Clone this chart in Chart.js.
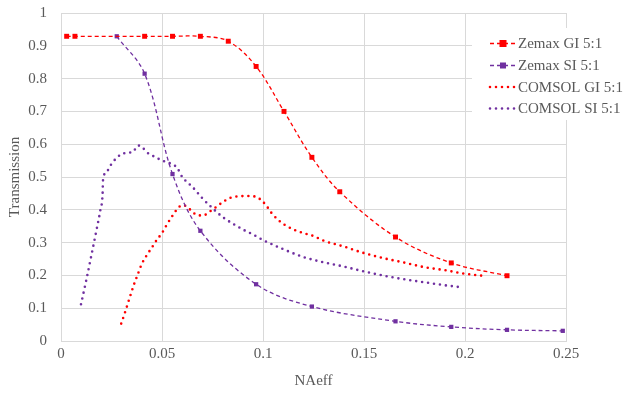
<!DOCTYPE html>
<html>
<head>
<meta charset="utf-8">
<script src="https://cdn.jsdelivr.net/npm/chart.js@4.4.1/dist/chart.umd.min.js"></script>
<style>
  html, body { margin: 0; padding: 0; background: #fff; }
  #wrap { width: 624px; height: 393px; }
</style>
</head>
<body>
<div id="wrap"><canvas id="chart" width="624" height="393"></canvas></div>
<script>
// Zemax (markers)
const zemaxGiX = [0.0028, 0.0069, 0.0414, 0.0552, 0.069, 0.0828, 0.0966, 0.1104, 0.1242, 0.138, 0.1656, 0.1932, 0.2208];
const zemaxGiY = [0.929, 0.929, 0.929, 0.929, 0.929, 0.914, 0.837, 0.700, 0.560, 0.455, 0.317, 0.238, 0.199];
const zemaxSiX = [0.0276, 0.0414, 0.0552, 0.069, 0.0966, 0.1242, 0.1656, 0.1932, 0.2208, 0.2484];
const zemaxSiY = [0.929, 0.815, 0.509, 0.336, 0.173, 0.105, 0.060, 0.043, 0.034, 0.031];

// COMSOL (dotted curves)
const comsolGiX = [0.0298, 0.032, 0.034, 0.036, 0.038, 0.040, 0.0425, 0.045, 0.0475, 0.050, 0.0525, 0.055, 0.0575, 0.060, 0.0625, 0.065, 0.068, 0.0705, 0.0735, 0.0765, 0.080, 0.084, 0.088, 0.092, 0.0965, 0.099, 0.1015, 0.104, 0.107, 0.110, 0.115, 0.120, 0.125, 0.130, 0.140, 0.150, 0.160, 0.170, 0.180, 0.190, 0.200, 0.2085];
const comsolGiY = [0.053, 0.093, 0.132, 0.17, 0.203, 0.235, 0.262, 0.285, 0.309, 0.329, 0.356, 0.38, 0.402, 0.414, 0.409, 0.394, 0.383, 0.383, 0.394, 0.407, 0.423, 0.437, 0.441, 0.442, 0.44, 0.43, 0.414, 0.392, 0.372, 0.357, 0.34, 0.329, 0.32, 0.306, 0.288, 0.268, 0.252, 0.239, 0.225, 0.216, 0.205, 0.199];
const comsolSiX = [0.0099, 0.0125, 0.015, 0.0175, 0.0195, 0.0206, 0.0208, 0.0225, 0.025, 0.0275, 0.030, 0.0335, 0.036, 0.038, 0.040, 0.0425, 0.045, 0.0475, 0.050, 0.0525, 0.055, 0.0575, 0.060, 0.0625, 0.065, 0.070, 0.075, 0.080, 0.085, 0.090, 0.095, 0.100, 0.110, 0.120, 0.130, 0.140, 0.150, 0.160, 0.170, 0.180, 0.190, 0.1966];
const comsolSiY = [0.112, 0.185, 0.26, 0.336, 0.40, 0.45, 0.49, 0.515, 0.54, 0.558, 0.57, 0.574, 0.579, 0.596, 0.592, 0.575, 0.566, 0.558, 0.550, 0.545, 0.539, 0.528, 0.50, 0.484, 0.47, 0.435, 0.405, 0.378, 0.358, 0.34, 0.325, 0.308, 0.28, 0.256, 0.24, 0.227, 0.212, 0.199, 0.188, 0.179, 0.170, 0.165];

const seriesLabels = ['Zemax GI 5:1', 'Zemax SI 5:1', 'COMSOL GI 5:1', 'COMSOL SI 5:1'];

const RED = '#ff0000';
const PURPLE = '#7030a0';
const TEXT = '#595959';
const GRID = '#d9d9d9';
const FONT = '"Liberation Serif", "Times New Roman", serif';

const pts = (xs, ys) => xs.map((x, i) => ({ x: x, y: ys[i] }));

// legend drawn by hand so line samples keep their dash + marker
const legendPlugin = {
    id: 'sideLegend',
    afterDraw(chart) {
        const ctx = chart.ctx;
        ctx.save();
        ctx.fillStyle = '#fff';
        ctx.fillRect(472, 28, 152, 92);
        const rows = [43.5, 65.5, 87, 108.5];
        chart.data.datasets.forEach((ds, i) => {
            const y = rows[i];
            ctx.strokeStyle = ds.borderColor;
            ctx.lineWidth = ds.borderWidth;
            ctx.lineCap = ds.borderCapStyle || 'butt';
            ctx.setLineDash(ds.borderDash || []);
            ctx.beginPath();
            ctx.moveTo(490, y);
            ctx.lineTo(516, y);
            ctx.stroke();
            ctx.setLineDash([]);
            if (ds.pointRadius > 0) {
                const r = ds.pointRadius;
                ctx.fillStyle = ds.pointBackgroundColor;
                ctx.fillRect(503 - r, y - r, r * 2, r * 2);
            }
            ctx.fillStyle = TEXT;
            ctx.font = '15px ' + FONT;
            ctx.textBaseline = 'middle';
            ctx.textAlign = 'left';
            ctx.fillText(ds.label, 518, y + 1);
        });
        ctx.restore();
    }
};

const ctx = document.getElementById('chart').getContext('2d');
new Chart(ctx, {
    type: 'scatter',
    data: {
        datasets: [
            {
                label: seriesLabels[0],
                data: pts(zemaxGiX, zemaxGiY),
                showLine: true,
                borderColor: RED,
                borderWidth: 1.3,
                borderDash: [4, 3],
                tension: 0.35,
                pointStyle: 'rect',
                pointRadius: 3.5,
                pointBackgroundColor: RED,
                pointBorderWidth: 0
            },
            {
                label: seriesLabels[1],
                data: pts(zemaxSiX, zemaxSiY),
                showLine: true,
                borderColor: PURPLE,
                borderWidth: 1.3,
                borderDash: [4, 3],
                tension: 0.35,
                pointStyle: 'rect',
                pointRadius: 3,
                pointBackgroundColor: PURPLE,
                pointBorderWidth: 0
            },
            {
                label: seriesLabels[2],
                data: pts(comsolGiX, comsolGiY),
                showLine: true,
                borderColor: RED,
                borderWidth: 2.6,
                borderDash: [0, 6],
                borderCapStyle: 'round',
                cubicInterpolationMode: 'monotone',
                pointRadius: 0
            },
            {
                label: seriesLabels[3],
                data: pts(comsolSiX, comsolSiY),
                showLine: true,
                borderColor: PURPLE,
                borderWidth: 2.6,
                borderDash: [0, 6],
                borderCapStyle: 'round',
                cubicInterpolationMode: 'monotone',
                pointRadius: 0
            }
        ]
    },
    options: {
        responsive: false,
        animation: false,
        layout: { padding: { left: 0, top: 13, right: 58, bottom: 0 } },
        scales: {
            x: {
                type: 'linear',
                min: 0, max: 0.25,
                afterFit: s => { s.height = 52; s.paddingLeft = 0; s.paddingRight = 0; },
                ticks: {
                    stepSize: 0.05,
                    color: TEXT,
                    font: { family: FONT, size: 15 },
                    padding: 4,
                    maxRotation: 0,
                    callback: v => String(+v.toFixed(2))
                },
                grid: { color: GRID, lineWidth: 1, drawTicks: false },
                border: { color: GRID },
                title: { display: true, text: 'NAeff', color: TEXT, font: { family: FONT, size: 15 }, padding: { bottom: 3 } }
            },
            y: {
                min: 0, max: 1,
                afterFit: s => { s.width = 61; s.paddingTop = 0; s.paddingBottom = 0; },
                ticks: {
                    stepSize: 0.1,
                    color: TEXT,
                    font: { family: FONT, size: 15 },
                    padding: 14,
                    callback: v => String(+v.toFixed(1))
                },
                grid: { color: GRID, lineWidth: 1, drawTicks: false },
                border: { color: GRID },
                title: { display: true, text: 'Transmission', color: TEXT, font: { family: FONT, size: 15 }, padding: { top: 6 } }
            }
        },
        plugins: {
            legend: { display: false },
            tooltip: { enabled: false }
        }
    },
    plugins: [legendPlugin]
});
</script>
</body>
</html>
